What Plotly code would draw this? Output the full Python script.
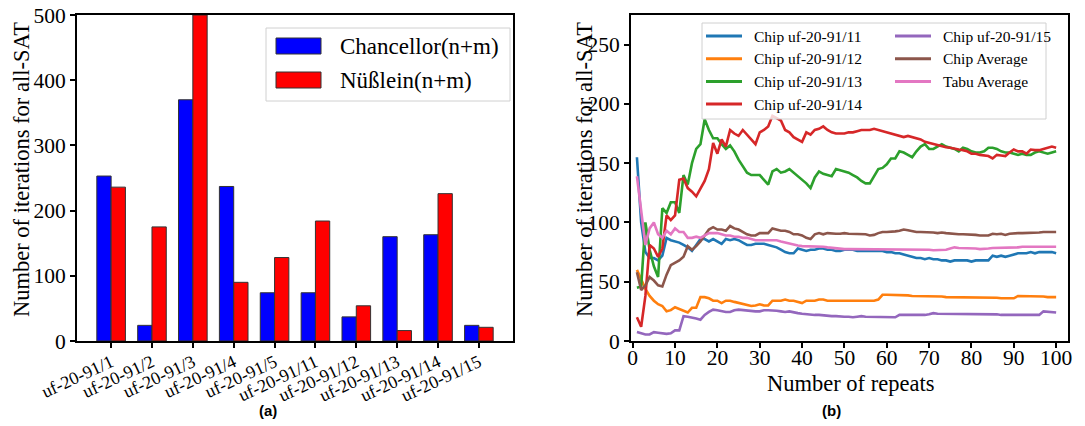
import plotly.graph_objects as go

# ---------------- data: panel (a) ----------------
instances = ["uf-20-91/1", "uf-20-91/2", "uf-20-91/3", "uf-20-91/4", "uf-20-91/5",
             "uf-20-91/11", "uf-20-91/12", "uf-20-91/13", "uf-20-91/14", "uf-20-91/15"]
chancellor = [253, 24, 370, 237, 74, 74, 37, 160, 163, 24]
nusslein = [236, 175, 500, 90, 128, 184, 54, 16, 226, 21]
bar_names = ["Chancellor(n+m)", "Nüßlein(n+m)"]
bar_colors = ["#0000ff", "#ff0000"]

# ---------------- data: panel (b) ----------------
repeats = list(range(1, 101))
chip_11 = [155, 100, 75, 70, 70, 68, 72, 87, 85, 84, 83, 81, 79, 76, 81, 86, 86, 84, 86, 84,
           82, 86, 85, 86, 85, 83, 81, 81, 82, 82, 82, 81, 80, 79, 77, 75, 74, 74, 78, 77,
           76, 77, 77, 78, 78, 77, 77, 76, 76, 77, 77, 77, 76, 76, 76, 76, 76, 76, 76, 75,
           75, 74, 74, 73, 72, 71, 70, 70, 69, 70, 69, 69, 68, 68, 67, 68, 68, 68, 68, 67,
           68, 68, 68, 68, 72, 71, 72, 71, 72, 73, 74, 74, 74, 75, 74, 75, 75, 75, 75, 74]
chip_12 = [60, 52, 44, 38, 34, 31, 29.5, 25, 26, 28.5, 27, 25, 24, 28, 28, 37, 37, 36, 34, 34,
           32, 34, 34, 33, 32, 31.5, 30, 29.5, 30, 31, 30, 30, 34, 34, 34, 35, 34, 34, 33, 32,
           34, 34, 34, 35, 35, 34, 34, 34, 34, 34, 34, 34.5, 34, 34, 34, 34, 34, 35, 39, 39,
           39, 38.5, 38.5, 39, 38.5, 38, 38, 38, 37.5, 37.5, 38, 37.5, 37.5, 37, 37, 37, 37, 37, 37, 37,
           37, 37, 36.5, 36.5, 36.5, 36.5, 36, 36, 36, 36, 38, 38, 38, 38, 37.5, 38, 37.5, 37, 37, 37]
chip_13 = [45, 46, 100, 77, 63, 54, 112, 108, 117, 117, 108, 140, 132, 150, 162, 166, 187, 178, 171, 171,
           166, 162, 165, 160, 153, 147, 142, 140, 140, 140, 136, 132, 143, 145, 142, 143, 145, 142, 139, 136,
           133, 129, 138, 143, 141, 140, 139, 145, 144, 143, 142, 140, 138, 135, 133, 133, 139, 145, 146, 149,
           154, 154, 160, 159, 157, 155, 160, 164, 166, 162, 162, 164, 166, 164, 163, 162, 160, 163, 162, 160,
           159, 159, 160, 163, 163, 162, 160, 159, 159, 158, 157, 158, 157, 157, 159, 160, 159, 158, 159, 160]
chip_14 = [20, 12, 38, 81, 78, 71, 78, 106, 102, 106, 136, 137, 129, 126, 122, 128, 135, 145, 167, 158,
           170, 164, 178, 175, 173, 178, 174, 170, 166, 176, 178, 181, 190, 188, 186, 178, 176, 172, 170, 168,
           176, 174, 178, 179, 181, 178, 176, 175, 175, 175, 176, 176, 177, 178, 178, 178, 179, 178, 177, 176,
           175, 174, 173, 172, 173, 172, 171, 170, 168, 167, 166, 165, 164, 163.5, 163, 162, 161.5, 161, 160, 158,
           158, 157, 156.5, 156, 154, 157, 156.5, 156, 159, 161.5, 160, 160, 158, 161.5, 161, 161, 162, 163, 164, 163]
chip_15 = [7.5, 6.5, 5.5, 5.5, 7.5, 7, 6.5, 6, 6.5, 9, 9, 21, 20.5, 20, 19, 18, 22, 24.5, 26.5, 26,
           25, 24.5, 24.5, 26, 26.5, 26, 26, 25.5, 25, 25, 26, 26, 26, 25.5, 25, 24.5, 25, 24, 23.5, 23,
           22.5, 22, 22, 22, 21.5, 21.5, 21, 21, 20.5, 20.5, 20.5, 20, 20.5, 21, 20.5, 20.5, 20.5, 20, 20, 20.5,
           20, 20, 22, 22, 22, 21.5, 22, 22, 22, 22.5, 23.5, 23, 23, 23, 23, 22.5, 23, 23, 22.5, 23,
           23, 22.5, 22.5, 22.5, 22.5, 22.5, 22, 22, 22, 22.5, 22, 22, 22, 22, 22, 22, 25, 24.5, 24, 24]
chip_avg = [58, 43, 47, 54, 51, 47, 46, 56, 64, 66, 68, 71, 80, 77, 80, 84, 89, 94, 96, 94,
            94, 93, 97, 95, 94, 92, 90, 89, 89, 91, 91, 91, 95, 94, 93, 93, 92, 90, 90, 89,
            87, 86, 90, 91, 90, 91, 90.5, 90.5, 90.5, 91, 90.5, 90.5, 90, 90, 90, 89, 89.5, 91, 92, 92,
            92, 92.5, 93, 94, 93.5, 92.5, 92, 92, 92, 92, 91.5, 91, 91.5, 91, 90.5, 90.5, 90, 90, 90, 90,
            89.5, 89, 89, 89, 90.5, 90, 90.5, 89.5, 90.5, 91, 91, 91, 91, 91, 91, 91.5, 92, 92, 92.5, 92]
tabu_avg = [139, 112, 81, 95, 100, 90, 87, 93, 90, 95, 92, 92, 87, 87, 88, 87, 89, 91, 91, 91,
            90, 89, 89, 88, 88, 87, 87, 86, 85, 85, 85, 85, 85, 85, 84, 83, 82, 81, 80.5, 80,
            80, 80, 79.5, 79.5, 79.5, 79, 78.5, 78, 78, 77.5, 77.5, 77.5, 77.5, 77.5, 77.5, 77.5, 77, 77, 77, 77,
            77, 77, 77.5, 77.5, 77.5, 77, 77, 77, 77, 77, 76.5, 76.5, 76.5, 77, 78, 79, 78.5, 78.5, 78, 78,
            78, 77.5, 77.5, 78, 78.5, 78.5, 79, 79, 79, 79, 79, 79.5, 79.5, 79.5, 79.5, 80, 80, 80, 79.5, 79.5]

series_names = ["Chip uf-20-91/11", "Chip uf-20-91/12", "Chip uf-20-91/13", "Chip uf-20-91/14",
                "Chip uf-20-91/15", "Chip Average", "Tabu Average"]
series_values = [chip_11, chip_12, chip_13, chip_14, chip_15, chip_avg, tabu_avg]
series_colors = ["#1f77b4", "#ff7f0e", "#2ca02c", "#d62728", "#9467bd", "#8c564b", "#e377c2"]

W, H = 1085, 426
SERIF = "Liberation Serif, Times New Roman, serif"

def px_x(p):
    return p / W

def px_y(p):
    return 1 - p / H

fig = go.Figure()

for name, vals, col in zip(bar_names, [chancellor, nusslein], bar_colors):
    fig.add_trace(go.Bar(x=instances, y=vals, name=name,
                         marker=dict(color=col, line=dict(color="#333333", width=1)),
                         xaxis="x", yaxis="y", showlegend=False))

for name, vals, col in zip(series_names, series_values, series_colors):
    fig.add_trace(go.Scatter(x=repeats, y=vals, mode="lines", name=name,
                             line=dict(color=col, width=2.6), xaxis="x2", yaxis="y2",
                             showlegend=False))

axis_common = dict(showline=True, linecolor="black", linewidth=2, mirror=True,
                   ticks="outside", ticklen=5, tickwidth=1.5, tickcolor="black",
                   showgrid=False, zeroline=False, automargin=False)

fig.update_layout(
    width=W, height=H,
    margin=dict(l=0, r=0, t=0, b=0),
    paper_bgcolor="white", plot_bgcolor="white",
    font=dict(family=SERIF, color="black"),
    barmode="group", bargap=0.3, bargroupgap=0,
    showlegend=False,
    xaxis=dict(domain=[px_x(77), px_x(513)], anchor="y", range=[-0.835, 9.835],
               tickangle=-25, tickfont=dict(size=18, family=SERIF),
               ticklabelstandoff=-3, **axis_common),
    yaxis=dict(domain=[px_y(341), px_y(15)], anchor="x", range=[0, 500],
               tickvals=[0, 100, 200, 300, 400, 500],
               tickfont=dict(size=21.5, family=SERIF), **axis_common),
    xaxis2=dict(domain=[px_x(631), px_x(1068)], anchor="y2", range=[-0.4, 102.8],
                tickvals=list(range(0, 101, 10)),
                tickfont=dict(size=21.5, family=SERIF),
                ticklabelstandoff=-9, **axis_common),
    yaxis2=dict(domain=[px_y(341), px_y(15)], anchor="x2", range=[0, 275],
                tickvals=[0, 50, 100, 150, 200, 250],
                tickfont=dict(size=21.5, family=SERIF), **axis_common),
)

# ---- legend of panel (a), drawn as a framed box ----
fig.add_shape(type="rect", xref="paper", yref="paper",
              x0=px_x(266), x1=px_x(510), y0=px_y(101), y1=px_y(28),
              line=dict(color="#d0d0d0", width=1), fillcolor="rgba(255,255,255,0.8)",
              layer="above")
for i, (name, col) in enumerate(zip(bar_names, bar_colors)):
    yc = 46 + 34 * i
    fig.add_shape(type="rect", xref="paper", yref="paper",
                  x0=px_x(276), x1=px_x(321), y0=px_y(yc + 8), y1=px_y(yc - 8),
                  line=dict(color="#333333", width=1), fillcolor=col, layer="above")
    fig.add_annotation(text=name, xref="paper", yref="paper", x=px_x(338), y=px_y(yc),
                       showarrow=False, xanchor="left", yanchor="middle",
                       font=dict(size=23, family=SERIF))

# ---- legend of panel (b), two columns in one frame ----
fig.add_shape(type="rect", xref="paper", yref="paper",
              x0=px_x(702), x1=px_x(1046), y0=px_y(119), y1=px_y(23),
              line=dict(color="#d0d0d0", width=1), fillcolor="rgba(255,255,255,0.8)",
              layer="above")
for i, (name, col) in enumerate(zip(series_names, series_colors)):
    colidx, row = (0, i) if i < 4 else (1, i - 4)
    x0 = 706 if colidx == 0 else 895
    yc = 36 + 22.7 * row
    fig.add_shape(type="line", xref="paper", yref="paper",
                  x0=px_x(x0), x1=px_x(x0 + 36), y0=px_y(yc), y1=px_y(yc),
                  line=dict(color=col, width=3), layer="above")
    fig.add_annotation(text=name, xref="paper", yref="paper", x=px_x(x0 + 46), y=px_y(yc),
                       showarrow=False, xanchor="left", yanchor="middle",
                       font=dict(size=15.5, family=SERIF))

# axis titles
fig.add_annotation(text="Number of iterations for all-SAT", xref="paper", yref="paper",
                   x=px_x(21), y=px_y(170), textangle=-90, showarrow=False,
                   font=dict(size=22.5, family=SERIF), xanchor="center", yanchor="middle")
fig.add_annotation(text="Number of iterations for all-SAT", xref="paper", yref="paper",
                   x=px_x(584), y=px_y(170), textangle=-90, showarrow=False,
                   font=dict(size=22.5, family=SERIF), xanchor="center", yanchor="middle")
fig.add_annotation(text="Number of repeats", xref="paper", yref="paper",
                   x=px_x(850), y=px_y(383), showarrow=False,
                   font=dict(size=22.5, family=SERIF), xanchor="center", yanchor="middle")

# captions
fig.add_annotation(text="<b>(a)</b>", xref="paper", yref="paper", x=px_x(268), y=px_y(410),
                   showarrow=False, font=dict(size=15, family="Liberation Sans"),
                   xanchor="center", yanchor="middle")
fig.add_annotation(text="<b>(b)</b>", xref="paper", yref="paper", x=px_x(831), y=px_y(410),
                   showarrow=False, font=dict(size=15, family="Liberation Sans"),
                   xanchor="center", yanchor="middle")

fig.write_html("out.html", config={"displayModeBar": False},
               post_script="document.body.style.margin='0';")
